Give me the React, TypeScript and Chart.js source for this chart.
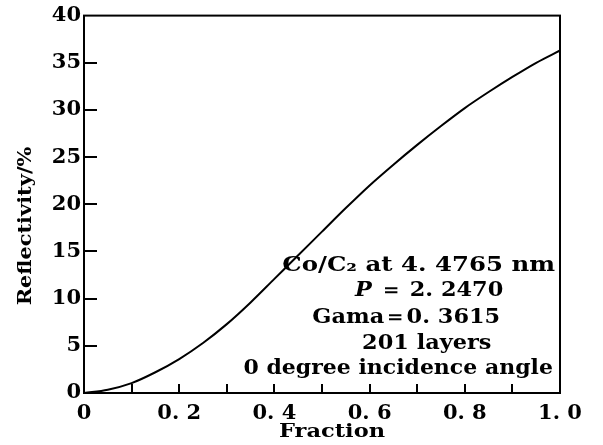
import React, { useEffect, useRef } from "react";
import { Chart, registerables } from "chart.js";

Chart.register(...registerables);

const fractions = [0, 0.05, 0.1, 0.15, 0.2, 0.25, 0.3, 0.35, 0.4, 0.45, 0.5, 0.55, 0.6, 0.65, 0.7, 0.75, 0.8, 0.85, 0.9, 0.95, 1.0];
const reflectivity = [0, 0.35, 1.05, 2.2, 3.6, 5.3, 7.3, 9.6, 12.1, 14.6, 17.1, 19.6, 22.0, 24.2, 26.3, 28.3, 30.2, 31.9, 33.5, 35.0, 36.3];
const xTickLabels = ["0", "0. 2", "0. 4", "0. 6", "0. 8", "1. 0"];
const yTickValues = [0, 5, 10, 15, 20, 25, 30, 35, 40];
const xTitle = "Fraction";
const yTitle = "Reflectivity/%";
const noteLines = [
  "Co/C\u2082 at 4. 4765 nm",
  "P \uFF1D 2. 2470",
  "Gama\uFF1D0. 3615",
  "201 layers",
  "0 degree incidence angle",
];
// anchor (fraction, reflectivity) for each note line centre
const noteX = [0.703, 0.725, 0.677, 0.72, 0.66];
const noteY = [13.5, 10.85, 8.0, 5.25, 2.6];
const noteStretch = [1.22, 1.12, 1.12, 1.12, 1.1];

const FONT = "'DejaVu Serif', 'Liberation Serif', serif";

function stretchText(ctx: any, text: string, x: number, y: number, sx: number) {
  ctx.save();
  ctx.translate(x, y);
  ctx.scale(sx, 1);
  ctx.fillText(text, 0, 0);
  ctx.restore();
}

const framePlugin = {
  id: "frame",
  afterDraw(chart: any) {
    const { ctx, chartArea: a, scales } = chart;
    const xs = scales.x;
    const ys = scales.y;
    ctx.save();
    ctx.strokeStyle = "#000";
    ctx.lineWidth = 2;
    ctx.strokeRect(a.left, a.top, a.right - a.left, a.bottom - a.top);
    ctx.beginPath();
    for (let i = 1; i < 10; i++) {
      const px = Math.round(xs.getPixelForValue(i / 10));
      ctx.moveTo(px, a.bottom);
      ctx.lineTo(px, a.bottom - 9);
    }
    for (const v of yTickValues) {
      if (v === 0 || v === 40) continue;
      const py = Math.round(ys.getPixelForValue(v));
      ctx.moveTo(a.left, py);
      ctx.lineTo(a.left + 13, py);
    }
    ctx.stroke();

    ctx.fillStyle = "#000";
    ctx.textAlign = "center";
    ctx.textBaseline = "middle";
    ctx.font = `bold 18px ${FONT}`;
    stretchText(ctx, xTitle, 332, 432, 1.25);
    ctx.save();
    ctx.translate(26, 226);
    ctx.rotate(-Math.PI / 2);
    stretchText(ctx, yTitle, 0, 0, 1.16);
    ctx.restore();

    const f = `bold 20px ${FONT}`;
    const fi = `italic bold 20px ${FONT}`;
    ctx.font = f;
    noteLines.forEach((t, i) => {
      const sx = noteStretch[i];
      const px = xs.getPixelForValue(noteX[i]);
      const py = ys.getPixelForValue(noteY[i]);
      if (i === 1) {
        ctx.font = fi;
        const w1 = ctx.measureText("P ").width * sx;
        ctx.font = f;
        const rest = t.slice(2);
        const w2 = ctx.measureText(rest).width * sx;
        const start = px - (w1 + w2) / 2;
        ctx.textAlign = "left";
        ctx.font = fi;
        stretchText(ctx, "P ", start, py, sx);
        ctx.font = f;
        stretchText(ctx, rest, start + w1, py, sx);
        ctx.textAlign = "center";
      } else {
        stretchText(ctx, t, px, py, sx);
      }
    });
    ctx.restore();
  },
};

export default function App() {
  const ref = useRef<HTMLCanvasElement>(null);
  useEffect(() => {
    document.body.style.margin = "0";
    const chart = new Chart(ref.current!, {
      type: "line",
      data: {
        datasets: [
          {
            data: fractions.map((f, i) => ({ x: f, y: reflectivity[i] })),
            borderColor: "#000",
            borderWidth: 2,
            pointRadius: 0,
            cubicInterpolationMode: "monotone",
            fill: false,
          },
        ],
      },
      options: {
        animation: false,
        responsive: true,
        maintainAspectRatio: false,
        layout: { padding: { top: 14, right: 43, left: 0, bottom: 0 } },
        plugins: { legend: { display: false }, tooltip: { enabled: false } },
        scales: {
          x: {
            type: "linear",
            min: 0,
            max: 1,
            grid: { display: false, drawTicks: false, tickLength: 0 },
            border: { display: false },
            ticks: {
              stepSize: 0.2,
              color: "#000",
              padding: 8,
              maxRotation: 0,
              font: { family: FONT, size: 21, weight: "bold" },
              callback: (v: any) => {
                const i = Math.round(Number(v) * 5);
                return xTickLabels[i] ?? "";
              },
            },
            afterFit: (s: any) => {
              s.height = 52;
            },
          },
          y: {
            min: 0,
            max: 40,
            grid: { display: false, drawTicks: false, tickLength: 0 },
            border: { display: false },
            ticks: {
              stepSize: 5,
              color: "#000",
              padding: 3,
              font: { family: FONT, size: 21, weight: "bold" },
            },
            afterFit: (s: any) => {
              s.width = 84;
            },
          },
        },
      },
      plugins: [framePlugin],
    });
    return () => chart.destroy();
  }, []);
  return (
    <div style={{ position: "absolute", left: 0, top: 0, width: 603, height: 445 }}>
      <canvas ref={ref} />
    </div>
  );
}
